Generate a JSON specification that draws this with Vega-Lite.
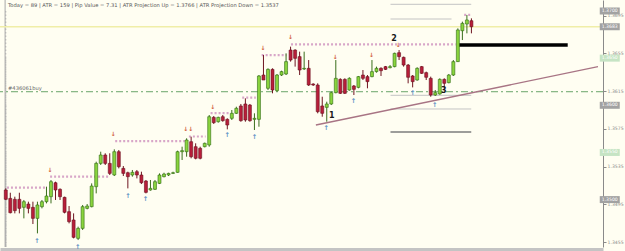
{
"$schema": "https://vega.github.io/schema/vega-lite/v6.json",
"width": 603, "height": 247,
"autosize": {"type": "none"},
"padding": {"left": 0, "top": 0, "right": 22, "bottom": 4},
"background": "#fffef2",
"config": {"view": {"stroke": null}, "font": "DejaVu Sans"},
"datasets": {
"candles": [
{"i":0,"o":1.35102,"h":1.35119,"l":1.34996,"c":1.35003},
{"i":1,"o":1.35013,"h":1.35073,"l":1.34854,"c":1.34861},
{"i":2,"o":1.35003,"h":1.35031,"l":1.34854,"c":1.34883},
{"i":3,"o":1.35003,"h":1.35073,"l":1.34854,"c":1.34907},
{"i":4,"o":1.34918,"h":1.34996,"l":1.34801,"c":1.34978},
{"i":5,"o":1.34953,"h":1.34978,"l":1.34854,"c":1.34907},
{"i":6,"o":1.34918,"h":1.34978,"l":1.34741,"c":1.34801},
{"i":7,"o":1.34801,"h":1.34978,"l":1.34642,"c":1.34943},
{"i":8,"o":1.34925,"h":1.34996,"l":1.34907,"c":1.34978},
{"i":9,"o":1.34978,"h":1.35137,"l":1.34960,"c":1.35038},
{"i":10,"o":1.35031,"h":1.35208,"l":1.34960,"c":1.35190},
{"i":11,"o":1.35179,"h":1.35190,"l":1.34996,"c":1.35102},
{"i":12,"o":1.35109,"h":1.35119,"l":1.34996,"c":1.35031},
{"i":13,"o":1.35024,"h":1.35031,"l":1.34854,"c":1.34865},
{"i":14,"o":1.34872,"h":1.34932,"l":1.34748,"c":1.34766},
{"i":15,"o":1.34784,"h":1.34854,"l":1.34589,"c":1.34600},
{"i":16,"o":1.34589,"h":1.34713,"l":1.34571,"c":1.34695},
{"i":17,"o":1.34695,"h":1.34943,"l":1.34678,"c":1.34925},
{"i":18,"o":1.34907,"h":1.34953,"l":1.34897,"c":1.34932},
{"i":19,"o":1.34925,"h":1.35172,"l":1.34918,"c":1.35144},
{"i":20,"o":1.35137,"h":1.35402,"l":1.35066,"c":1.35384},
{"i":21,"o":1.35384,"h":1.35508,"l":1.35367,"c":1.35473},
{"i":22,"o":1.35473,"h":1.35491,"l":1.35367,"c":1.35384},
{"i":23,"o":1.35384,"h":1.35491,"l":1.35261,"c":1.35278},
{"i":24,"o":1.35261,"h":1.35533,"l":1.35250,"c":1.35508},
{"i":25,"o":1.35508,"h":1.35526,"l":1.35331,"c":1.35349},
{"i":26,"o":1.35331,"h":1.35356,"l":1.35250,"c":1.35278},
{"i":27,"o":1.35285,"h":1.35296,"l":1.35119,"c":1.35243},
{"i":28,"o":1.35261,"h":1.35314,"l":1.35243,"c":1.35289},
{"i":29,"o":1.35296,"h":1.35314,"l":1.35225,"c":1.35261},
{"i":30,"o":1.35261,"h":1.35296,"l":1.35165,"c":1.35179},
{"i":31,"o":1.35197,"h":1.35208,"l":1.35066,"c":1.35077},
{"i":32,"o":1.35102,"h":1.35208,"l":1.35095,"c":1.35119},
{"i":33,"o":1.35109,"h":1.35208,"l":1.35102,"c":1.35190},
{"i":34,"o":1.35172,"h":1.35278,"l":1.35165,"c":1.35261},
{"i":35,"o":1.35243,"h":1.35285,"l":1.35236,"c":1.35271},
{"i":36,"o":1.35261,"h":1.35285,"l":1.35250,"c":1.35278},
{"i":37,"o":1.35278,"h":1.35296,"l":1.35271,"c":1.35285},
{"i":38,"o":1.35289,"h":1.35519,"l":1.35285,"c":1.35508},
{"i":39,"o":1.35508,"h":1.35561,"l":1.35420,"c":1.35519},
{"i":40,"o":1.35508,"h":1.35650,"l":1.35455,"c":1.35632},
{"i":41,"o":1.35614,"h":1.35667,"l":1.35438,"c":1.35455},
{"i":42,"o":1.35561,"h":1.35597,"l":1.35427,"c":1.35438},
{"i":43,"o":1.35544,"h":1.35561,"l":1.35427,"c":1.35438},
{"i":44,"o":1.35561,"h":1.35604,"l":1.35554,"c":1.35597},
{"i":45,"o":1.35579,"h":1.35897,"l":1.35561,"c":1.35879},
{"i":46,"o":1.35872,"h":1.35886,"l":1.35802,"c":1.35816},
{"i":47,"o":1.35826,"h":1.35879,"l":1.35816,"c":1.35872},
{"i":48,"o":1.35879,"h":1.35897,"l":1.35826,"c":1.35837},
{"i":49,"o":1.35851,"h":1.35862,"l":1.35745,"c":1.35791},
{"i":50,"o":1.35862,"h":1.35950,"l":1.35844,"c":1.35915},
{"i":51,"o":1.35915,"h":1.35985,"l":1.35908,"c":1.35968},
{"i":52,"o":1.35993,"h":1.36014,"l":1.35826,"c":1.35837},
{"i":53,"o":1.36014,"h":1.36074,"l":1.35826,"c":1.35844},
{"i":54,"o":1.36003,"h":1.36014,"l":1.35826,"c":1.35837},
{"i":55,"o":1.35851,"h":1.35915,"l":1.35738,"c":1.35862},
{"i":56,"o":1.35851,"h":1.36321,"l":1.35773,"c":1.36311},
{"i":57,"o":1.36321,"h":1.36533,"l":1.36268,"c":1.36268},
{"i":58,"o":1.36180,"h":1.36392,"l":1.36162,"c":1.36381},
{"i":59,"o":1.36381,"h":1.36392,"l":1.36127,"c":1.36162},
{"i":60,"o":1.36155,"h":1.36332,"l":1.36145,"c":1.36321},
{"i":61,"o":1.36321,"h":1.36367,"l":1.36311,"c":1.36357},
{"i":62,"o":1.36332,"h":1.36551,"l":1.36321,"c":1.36463},
{"i":63,"o":1.36586,"h":1.36622,"l":1.36463,"c":1.36480},
{"i":64,"o":1.36586,"h":1.36594,"l":1.36410,"c":1.36498},
{"i":65,"o":1.36516,"h":1.36569,"l":1.36321,"c":1.36374},
{"i":66,"o":1.36385,"h":1.36569,"l":1.36374,"c":1.36392},
{"i":67,"o":1.36392,"h":1.36480,"l":1.36205,"c":1.36215},
{"i":68,"o":1.36226,"h":1.36233,"l":1.36205,"c":1.36215},
{"i":69,"o":1.36215,"h":1.36233,"l":1.35915,"c":1.35932},
{"i":70,"o":1.35993,"h":1.36091,"l":1.35879,"c":1.35915},
{"i":71,"o":1.35978,"h":1.36038,"l":1.35826,"c":1.36014},
{"i":72,"o":1.36014,"h":1.36145,"l":1.36003,"c":1.36134},
{"i":73,"o":1.36134,"h":1.36480,"l":1.36127,"c":1.36286},
{"i":74,"o":1.36275,"h":1.36286,"l":1.36120,"c":1.36127},
{"i":75,"o":1.36275,"h":1.36286,"l":1.36120,"c":1.36127},
{"i":76,"o":1.36162,"h":1.36297,"l":1.36155,"c":1.36286},
{"i":77,"o":1.36205,"h":1.36215,"l":1.36109,"c":1.36169},
{"i":78,"o":1.36190,"h":1.36311,"l":1.36180,"c":1.36304},
{"i":79,"o":1.36321,"h":1.36374,"l":1.36268,"c":1.36286},
{"i":80,"o":1.36304,"h":1.36321,"l":1.36180,"c":1.36251},
{"i":81,"o":1.36304,"h":1.36480,"l":1.36297,"c":1.36357},
{"i":82,"o":1.36357,"h":1.36410,"l":1.36346,"c":1.36392},
{"i":83,"o":1.36392,"h":1.36403,"l":1.36311,"c":1.36367},
{"i":84,"o":1.36410,"h":1.36417,"l":1.36374,"c":1.36381},
{"i":85,"o":1.36399,"h":1.36427,"l":1.36392,"c":1.36410},
{"i":86,"o":1.36410,"h":1.36558,"l":1.36403,"c":1.36551},
{"i":87,"o":1.36558,"h":1.36586,"l":1.36480,"c":1.36516},
{"i":88,"o":1.36509,"h":1.36516,"l":1.36410,"c":1.36427},
{"i":89,"o":1.36427,"h":1.36438,"l":1.36233,"c":1.36297},
{"i":90,"o":1.36311,"h":1.36321,"l":1.36190,"c":1.36251},
{"i":91,"o":1.36268,"h":1.36403,"l":1.36261,"c":1.36392},
{"i":92,"o":1.36410,"h":1.36417,"l":1.36332,"c":1.36339},
{"i":93,"o":1.36346,"h":1.36357,"l":1.36268,"c":1.36297},
{"i":94,"o":1.36286,"h":1.36304,"l":1.36091,"c":1.36109},
{"i":95,"o":1.36109,"h":1.36162,"l":1.36099,"c":1.36134},
{"i":96,"o":1.36120,"h":1.36286,"l":1.36113,"c":1.36275},
{"i":97,"o":1.36275,"h":1.36286,"l":1.36162,"c":1.36233},
{"i":98,"o":1.36240,"h":1.36332,"l":1.36233,"c":1.36321},
{"i":99,"o":1.36321,"h":1.36480,"l":1.36311,"c":1.36463},
{"i":100,"o":1.36463,"h":1.36816,"l":1.36459,"c":1.36799},
{"i":101,"o":1.36791,"h":1.36887,"l":1.36692,"c":1.36869},
{"i":102,"o":1.36862,"h":1.36958,"l":1.36763,"c":1.36905},
{"i":103,"o":1.36897,"h":1.36922,"l":1.36763,"c":1.36833}
],
"grid": [{"p":1.35},{"p":1.355},{"p":1.36},{"p":1.365},{"p":1.37}],
"lvlLight": [{"a":85.1,"b":102.96,"p":1.37071},{"a":85.1,"b":98.6,"p":1.36915},{"a":85.1,"b":102.96,"p":1.36106},{"a":85.1,"b":102.96,"p":1.35961}],
"lvlDark": [{"a":85.1,"b":102.96,"p":1.35717}],
"res": [{"a":0.26,"b":8.96,"p":1.35126},{"a":9.8,"b":22.9,"p":1.35243},{"a":24.2,"b":39.6,"p":1.35621},{"a":40.5,"b":44.2,"p":1.35669},{"a":45.3,"b":49.4,"p":1.35918},{"a":52.3,"b":55.3,"p":1.36081},{"a":56.6,"b":62.1,"p":1.36533},{"a":63.1,"b":99.5,"p":1.36647},{"a":101.4,"b":102.96,"p":1.36958}],
"trend": [{"a":68.6,"pa":1.35791,"b":131.0,"pb":1.36409}],
"black": [{"a":99.8,"b":124.3,"p":1.36639}],
"down": [{"i":9.8,"p":1.35314},{"i":23.8,"p":1.35692},{"i":39.8,"p":1.35746},{"i":40.9,"p":1.35746},{"i":45.8,"p":1.35979},{"i":56.9,"p":1.36611},{"i":63.0,"p":1.36721},{"i":72.9,"p":1.36515},{"i":80.9,"p":1.36533},{"i":86.8,"p":1.36639}],
"up": [{"i":6.9,"p":1.34564},{"i":15.9,"p":1.345},{"i":27.0,"p":1.35038},{"i":30.9,"p":1.35003},{"i":49.0,"p":1.35685},{"i":55.0,"p":1.35661},{"i":70.9,"p":1.35756},{"i":76.9,"p":1.36049},{"i":90.0,"p":1.36134},{"i":94.9,"p":1.36}],
"nums": [{"i":72.1,"p":1.3589,"t":"1"},{"i":85.9,"p":1.36703,"t":"2"},{"i":96.9,"p":1.36152,"t":"3"}],
"boxGray": [{"p":1.37,"t":"1.3700"},{"p":1.36833,"t":"1.3683"},{"p":1.36,"t":"1.3600"},{"p":1.35,"t":"1.3500"}],
"boxGreen": [{"p":1.365,"t":"1.3650"},{"p":1.355,"t":"1.3550"}]
},
"layer": [
{"data": {"name": "grid"}, "mark": {"type": "rule", "color": "#b4b4b4", "strokeDash": [1.5, 2], "strokeWidth": 1},
 "encoding": {
  "y": {"field": "p", "type": "quantitative", "scale": {"domain": [1.344974, 1.371166], "nice": false, "zero": false},
        "axis": {"orient": "right", "title": null, "grid": false, "values": [1.3455,1.3475,1.3495,1.3515,1.3535,1.3555,1.3575,1.3595,1.3615,1.3635,1.3655,1.3675,1.3695], "format": ".4f", "labelFontSize": 4.6, "labelColor": "#8a8a8a", "tickColor": "#8a8a8a", "tickSize": 3, "labelPadding": 1, "domainColor": "#8a8a8a", "labelFlush": false, "labelOverlap": false}},
  "x": {"datum": 0, "type": "quantitative", "scale": {"domain": [-0.174, 131.0], "nice": false, "zero": false},
        "axis": {"orient": "bottom", "title": null, "labels": false, "ticks": false, "grid": false, "domainColor": "#c4c4c4", "domainWidth": 3, "offset": 2}}
 }},
{"data": {"values": [{}]}, "mark": {"type": "rule", "color": "#a8a8a8", "strokeWidth": 1}, "encoding": {"x": {"datum": -0.15, "type": "quantitative"}}},
{"data": {"values": [{}]}, "mark": {"type": "rule", "color": "#f0eea8", "strokeWidth": 1.6}, "encoding": {"y": {"datum": 1.36833, "type": "quantitative"}}},
{"data": {"values": [{}]}, "mark": {"type": "rule", "color": "#6aa46a", "strokeWidth": 1, "strokeDash": [7, 3, 2, 3]}, "encoding": {"y": {"datum": 1.36144, "type": "quantitative"}}},
{"data": {"name": "lvlLight"}, "mark": {"type": "rule", "color": "#c4c4c4", "strokeWidth": 1},
 "encoding": {"x": {"field": "a", "type": "quantitative"}, "x2": {"field": "b"}, "y": {"field": "p", "type": "quantitative"}}},
{"data": {"name": "lvlDark"}, "mark": {"type": "rule", "color": "#7c7c7c", "strokeWidth": 1.6},
 "encoding": {"x": {"field": "a", "type": "quantitative"}, "x2": {"field": "b"}, "y": {"field": "p", "type": "quantitative"}}},
{"data": {"name": "res"}, "mark": {"type": "rule", "color": "#d8a6c8", "strokeWidth": 2.2, "strokeDash": [2, 2]},
 "encoding": {"x": {"field": "a", "type": "quantitative"}, "x2": {"field": "b"}, "y": {"field": "p", "type": "quantitative"}}},
{"data": {"name": "trend"}, "mark": {"type": "rule", "color": "#a87484", "strokeWidth": 1.3},
 "encoding": {"x": {"field": "a", "type": "quantitative"}, "x2": {"field": "b"}, "y": {"field": "pa", "type": "quantitative"}, "y2": {"field": "pb"}}},
{"data": {"name": "black"}, "mark": {"type": "rule", "color": "#000000", "strokeWidth": 3.5},
 "encoding": {"x": {"field": "a", "type": "quantitative"}, "x2": {"field": "b"}, "y": {"field": "p", "type": "quantitative"}}},
{"data": {"name": "candles"}, "mark": {"type": "rule", "strokeWidth": 1},
 "encoding": {"x": {"field": "i", "type": "quantitative"}, "y": {"field": "h", "type": "quantitative"}, "y2": {"field": "l"},
   "color": {"condition": {"test": "datum.c > datum.o", "value": "#3a6e1c"}, "value": "#6e1420"}}},
{"data": {"name": "candles"}, "mark": {"type": "bar", "width": 3, "strokeWidth": 0.6},
 "encoding": {"x": {"field": "i", "type": "quantitative"}, "y": {"field": "o", "type": "quantitative"}, "y2": {"field": "c"},
   "fill": {"condition": {"test": "datum.c > datum.o", "value": "#8ad43e"}, "value": "#b81e3a"},
   "stroke": {"condition": {"test": "datum.c > datum.o", "value": "#2f6a12"}, "value": "#6a101e"}}},
{"data": {"name": "down"}, "mark": {"type": "text", "text": "↓", "fontSize": 6, "fontWeight": "bold", "color": "#d2603c", "baseline": "middle", "align": "center"},
 "encoding": {"x": {"field": "i", "type": "quantitative"}, "y": {"field": "p", "type": "quantitative"}}},
{"data": {"name": "up"}, "mark": {"type": "text", "text": "↑", "fontSize": 6.5, "fontWeight": "bold", "color": "#5a8ec4", "baseline": "middle", "align": "center"},
 "encoding": {"x": {"field": "i", "type": "quantitative"}, "y": {"field": "p", "type": "quantitative"}}},
{"data": {"name": "nums"}, "mark": {"type": "text", "fontSize": 8, "fontWeight": "bold", "color": "#1a1a1a", "baseline": "middle", "align": "center"},
 "encoding": {"x": {"field": "i", "type": "quantitative"}, "y": {"field": "p", "type": "quantitative"}, "text": {"field": "t"}}},
{"data": {"values": [{"t": "Today = 89  |  ATR = 159  |  Pip Value = 7.31  |  ATR Projection Up = 1.3766  |  ATR Projection Down = 1.3537"}]},
 "mark": {"type": "text", "fontSize": 5.2, "color": "#555555", "align": "left", "baseline": "middle", "dx": 3},
 "encoding": {"x": {"datum": -0.174, "type": "quantitative"}, "y": {"datum": 1.3706, "type": "quantitative"}, "text": {"field": "t"}}},
{"data": {"values": [{"t": "#436061buy"}]},
 "mark": {"type": "text", "fontSize": 5.2, "color": "#666666", "align": "left", "baseline": "middle", "dx": 3},
 "encoding": {"x": {"datum": -0.174, "type": "quantitative"}, "y": {"datum": 1.3618, "type": "quantitative"}, "text": {"field": "t"}}},
{"data": {"name": "boxGray"}, "mark": {"type": "tick", "orient": "horizontal", "size": 20, "thickness": 7, "color": "#a2a2a2", "opacity": 1},
 "encoding": {"x": {"datum": 133.6, "type": "quantitative"}, "y": {"field": "p", "type": "quantitative"}}},
{"data": {"name": "boxGreen"}, "mark": {"type": "tick", "orient": "horizontal", "size": 20, "thickness": 7, "color": "#c6e4c4", "opacity": 1},
 "encoding": {"x": {"datum": 133.6, "type": "quantitative"}, "y": {"field": "p", "type": "quantitative"}}},
{"data": {"name": "boxGray"}, "mark": {"type": "text", "fontSize": 4.6, "color": "#ffffff", "align": "center", "baseline": "middle"},
 "encoding": {"x": {"datum": 133.6, "type": "quantitative"}, "y": {"field": "p", "type": "quantitative"}, "text": {"field": "t"}}},
{"data": {"name": "boxGreen"}, "mark": {"type": "text", "fontSize": 4.6, "color": "#ffffff", "align": "center", "baseline": "middle"},
 "encoding": {"x": {"datum": 133.6, "type": "quantitative"}, "y": {"field": "p", "type": "quantitative"}, "text": {"field": "t"}}}
]
}
